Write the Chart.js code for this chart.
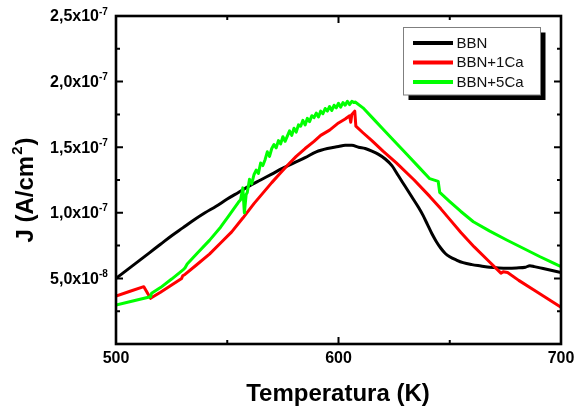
<!DOCTYPE html>
<html>
<head>
<meta charset="utf-8">
<script src="https://cdn.jsdelivr.net/npm/chart.js@4.4.0/dist/chart.umd.min.js"></script>
<style>
  html, body { margin: 0; padding: 0; background: #fff; }
  canvas { display: block; }
</style>
</head>
<body>
<canvas id="chart" width="574" height="410"></canvas>
<script>
// J values are given in units of 1e-8 A/cm2
const seriesNames = ['BBN', 'BBN+1Ca', 'BBN+5Ca'];
const seriesColors = ['#000000', '#ff0000', '#00ff00'];

const tBBN = [500,505,510,515,520,525,530,535,540,545,550,555,560,565,570,575,580,585,590,595,
  600,603,606,609,612,615,618,621,624,627,630,633,636,638,640,642,644,646,648,650,
  653,656,660,664,668,672,676,680,684,686,688,692,696,700];
const jBBN = [5.0,5.65,6.3,6.95,7.6,8.25,8.85,9.45,10.0,10.5,11.05,11.55,12.05,12.5,12.95,13.4,13.8,14.2,14.65,14.9,
  15.05,15.15,15.15,15.0,14.9,14.7,14.45,14.1,13.6,12.8,12.0,11.2,10.4,9.8,9.1,8.4,7.8,7.3,6.9,6.65,
  6.4,6.2,6.05,5.95,5.85,5.8,5.78,5.8,5.85,5.97,5.9,5.75,5.6,5.45];

const t1Ca = [500,506,512.5,515.5,520,525,529.5,530,531,536,542,547,552,557,562,566,570,574,577,581,
  585,589,592,596,600,603,605,605.5,606,607.3,607.8,611,615,620,626,634,641,646,650,655,
  661,667,673,674,676,681,688,694,700];
const j1Ca = [3.66,4.0,4.37,3.48,3.95,4.5,5.0,5.2,5.3,6.0,6.85,7.7,8.55,9.6,10.7,11.5,12.3,13.05,13.6,14.3,
  14.9,15.45,15.9,16.3,16.85,17.15,17.4,16.9,17.5,17.75,16.6,16.1,15.5,14.7,13.8,12.5,11.25,10.3,9.5,8.5,
  7.4,6.4,5.4,5.5,5.45,4.85,4.1,3.45,2.8];

const t5Ca = [500,508,515.5,516,520,525,530.4,531,532,536.5,542,547,551,555,556,557,557.7,558.5,
  559,560,561,562,563,564,565,566,567,568,569,570,571,572,573,574,575,576,577,578,579,580,
  581,582,583,584,585,586,587,588,589,590,591,592,593,594,595,596,597,598,599,600,
  601,602,603,604,605,606,607,
  607.5,611,616,621,626,631,636,641,644.8,645.5,650,655,660.6,668,675.6,683,690.6,695,700];
const j5Ca = [2.97,3.3,3.6,3.86,4.3,4.95,5.69,5.8,6.1,6.91,7.9,8.9,9.85,10.8,11.0,11.9,10.0,11.4,
  11.55,12.55,12.2,12.9,13.25,13.0,13.8,13.6,14.05,14.65,14.3,14.9,15.2,14.95,15.5,15.25,15.8,15.45,15.85,16.25,15.9,16.45,
  16.15,16.7,16.6,17.05,16.7,17.2,16.95,17.4,17.25,17.6,17.3,17.75,17.55,17.95,17.75,18.1,17.8,18.2,18.0,18.35,
  18.05,18.4,18.2,18.5,18.25,18.5,18.4,
  18.45,18.0,17.1,16.2,15.3,14.4,13.5,12.6,12.4,11.55,10.85,10.1,9.32,8.6,7.93,7.3,6.65,6.3,5.89];

const xTicks = [500, 600, 700];
const xMinorTicks = [550, 650];
const yTicks = [5, 10, 15, 20, 25];
const yMinorTicks = [2.5, 7.5, 12.5, 17.5, 22.5];
const yTickMant = ['5,0', '1,0', '1,5', '2,0', '2,5'];
const yTickExp = ['-8', '-7', '-7', '-7', '-7'];

const FONT = "'Liberation Sans', Arial, sans-serif";

function toPoints(ts, js) {
  return ts.map((t, i) => ({ x: t, y: js[i] }));
}

// axes frame, inward ticks, labels, titles and the boxed legend
const framePlugin = {
  id: 'frame',
  afterDatasetsDraw(chart) {
    const { ctx, chartArea: a, scales: { x, y } } = chart;
    ctx.save();

    // ticks
    ctx.strokeStyle = '#000';
    ctx.lineWidth = 2;
    const xTick = (v, len) => {
      const px = x.getPixelForValue(v);
      ctx.beginPath();
      ctx.moveTo(px, a.bottom); ctx.lineTo(px, a.bottom - len);
      ctx.moveTo(px, a.top); ctx.lineTo(px, a.top + len);
      ctx.stroke();
    };
    const yTick = (v, len) => {
      const py = y.getPixelForValue(v);
      ctx.beginPath();
      ctx.moveTo(a.left, py); ctx.lineTo(a.left + len, py);
      ctx.moveTo(a.right, py); ctx.lineTo(a.right - len, py);
      ctx.stroke();
    };
    xTicks.forEach(v => xTick(v, 7));
    xMinorTicks.forEach(v => xTick(v, 4));
    yTicks.forEach(v => yTick(v, 7));
    yMinorTicks.forEach(v => yTick(v, 4));

    // frame
    ctx.lineWidth = 2.6;
    ctx.strokeRect(a.left, a.top, a.right - a.left, a.bottom - a.top);

    // tick labels
    ctx.fillStyle = '#000';
    ctx.font = 'bold 16px ' + FONT;
    ctx.textAlign = 'center';
    ctx.textBaseline = 'middle';
    xTicks.forEach(v => ctx.fillText(String(v), x.getPixelForValue(v), a.bottom + 15));

    yTicks.forEach((v, i) => {
      const py = y.getPixelForValue(v);
      ctx.font = 'bold 16px ' + FONT;
      ctx.textAlign = 'right';
      ctx.textBaseline = 'middle';
      ctx.fillText(yTickMant[i] + 'x10', 99, py + 1);
      ctx.font = 'bold 10px ' + FONT;
      ctx.textAlign = 'left';
      ctx.textBaseline = 'alphabetic';
      ctx.fillText(yTickExp[i], 99, py - 1.5);
    });

    // axis titles
    ctx.font = 'bold 24px ' + FONT;
    ctx.textAlign = 'center';
    ctx.textBaseline = 'middle';
    ctx.fillText('Temperatura (K)', 338, 394);

    ctx.save();
    ctx.translate(26, 191);
    ctx.rotate(-Math.PI / 2);
    const big = 'bold 24px ' + FONT, small = 'bold 15px ' + FONT;
    ctx.font = big;
    const w1 = ctx.measureText('J (A/cm').width;
    const w3 = ctx.measureText(')').width;
    ctx.font = small;
    const w2 = ctx.measureText('2').width;
    let sx = -(w1 + w2 + w3) / 2;
    ctx.textAlign = 'left';
    ctx.font = big;
    ctx.fillText('J (A/cm', sx, 0);
    ctx.font = small;
    ctx.fillText('2', sx + w1 + 1, -8);
    ctx.font = big;
    ctx.fillText(')', sx + w1 + w2 + 2, 0);
    ctx.restore();

    // legend with drop shadow
    const lx = 403.5, ly = 27.5, lw = 137, lh = 67.5;
    ctx.fillStyle = '#000';
    ctx.fillRect(lx + 5, ly + 5, lw, lh);
    ctx.fillStyle = '#fff';
    ctx.fillRect(lx, ly, lw, lh);
    ctx.strokeStyle = '#7f7f7f';
    ctx.lineWidth = 1;
    ctx.strokeRect(lx, ly, lw, lh);
    const rows = [43, 62.5, 82];
    seriesNames.forEach((name, i) => {
      ctx.strokeStyle = seriesColors[i];
      ctx.lineWidth = 4;
      ctx.beginPath();
      ctx.moveTo(413, rows[i]);
      ctx.lineTo(453, rows[i]);
      ctx.stroke();
      ctx.fillStyle = '#111';
      ctx.font = '15px ' + FONT;
      ctx.textAlign = 'left';
      ctx.textBaseline = 'middle';
      ctx.fillText(name, 456.5, rows[i] + 0.5);
    });

    ctx.restore();
  }
};

const ctx = document.getElementById('chart').getContext('2d');
new Chart(ctx, {
  type: 'line',
  data: {
    datasets: [
      { label: seriesNames[0], data: toPoints(tBBN, jBBN), borderColor: seriesColors[0], order: 3,
        cubicInterpolationMode: 'monotone' },
      { label: seriesNames[1], data: toPoints(t1Ca, j1Ca), borderColor: seriesColors[1], order: 2 },
      { label: seriesNames[2], data: toPoints(t5Ca, j5Ca), borderColor: seriesColors[2], order: 1 }
    ]
  },
  options: {
    responsive: false,
    animation: false,
    layout: { padding: { left: 116, top: 16, right: 13, bottom: 66 } },
    elements: {
      line: { borderWidth: 3, tension: 0, fill: false, borderJoinStyle: 'round' },
      point: { radius: 0, hoverRadius: 0 }
    },
    scales: {
      x: { type: 'linear', min: 500, max: 700, display: false },
      y: { type: 'linear', min: 0, max: 25, display: false }
    },
    plugins: { legend: { display: false }, tooltip: { enabled: false } }
  },
  plugins: [framePlugin]
});
</script>
</body>
</html>
